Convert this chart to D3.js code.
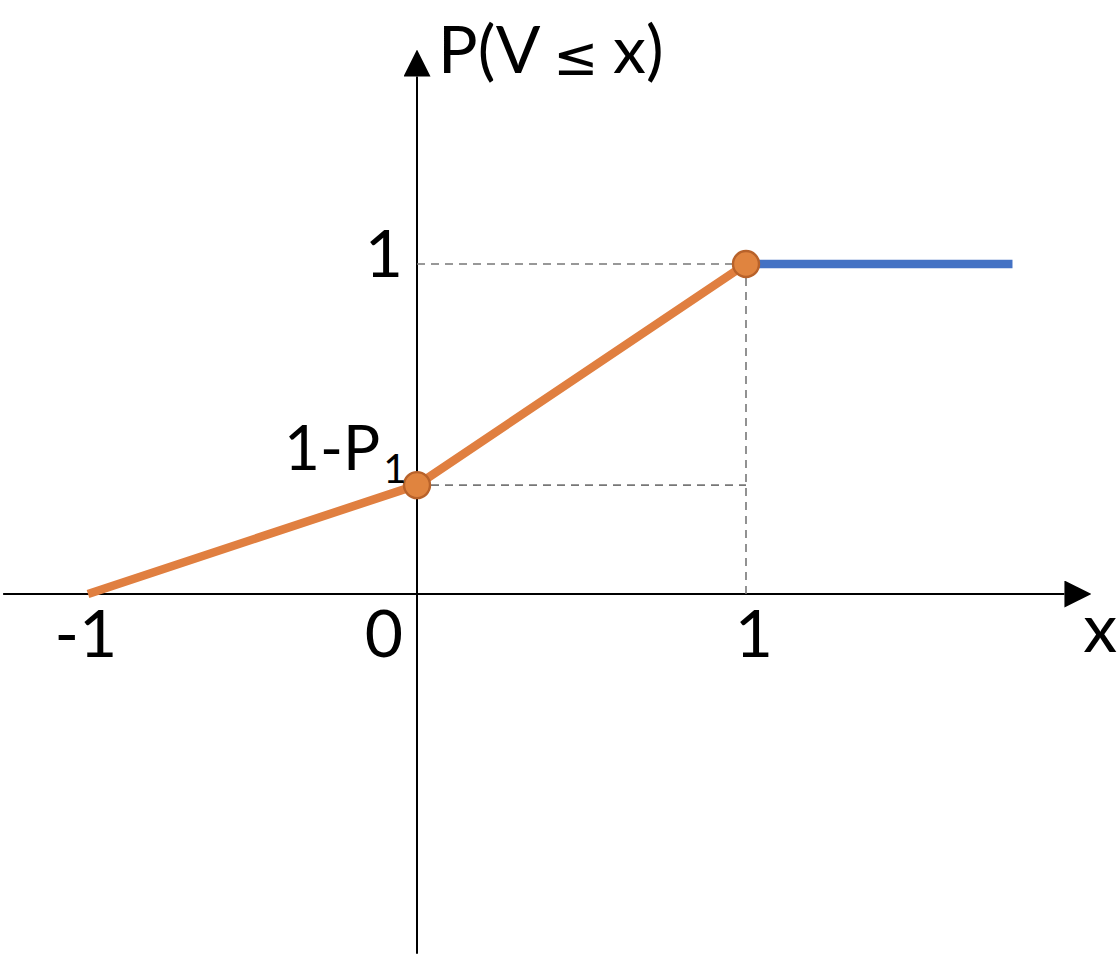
<!DOCTYPE html>
<html>
<head>
<meta charset="utf-8">
<script src="https://cdn.jsdelivr.net/npm/d3@7"></script>
<style>
  html, body { margin: 0; padding: 0; background: #fff; }
  svg { display: block; }
  text { font-family: Lato, "Open Sans", sans-serif; fill: #000; }
</style>
</head>
<body>
<svg id="chart" width="1120" height="960"></svg>
<script>
// ---- data ----
const cdfX = [-1, 0, 1];           // orange segment x values
const cdfY = [0, 0.33, 1];         // orange segment y values (1 - P1 ≈ 0.33)
const flatX = [1, 1.81];           // blue constant segment
const flatY = [1, 1];
const markerX = [0, 1];            // circle markers
const markerY = [0.33, 1];
const xTicks = [-1, 0, 1];
const xTickLabels = ["-1", "0", "1"];
const yTicks = [1];
const yTickLabels = ["1"];
const xAxisExtent = [-1.258, 2.05];
const yAxisExtent = [-1.09, 1.65];
const yLabelParts = ["P(V ", "\u2264", " x)"];
const xLabel = "x";
const pointLabel = "1-P";
const pointLabelSub = "1";

// ---- scales ----
const x = d3.scaleLinear().domain([-1, 1]).range([88, 746]);
const y = d3.scaleLinear().domain([0, 1]).range([594, 264]);

const svg = d3.select("#chart");

const defs = svg.append("defs");
defs.append("marker").attr("id", "arrow")
  .attr("viewBox", "0 0 10 10").attr("refX", 0).attr("refY", 5)
  .attr("markerWidth", 27).attr("markerHeight", 27)
  .attr("markerUnits", "userSpaceOnUse")
  .attr("orient", "auto")
  .append("path").attr("d", "M0,0 L10,5 L0,10 Z").attr("fill", "#000");

// axes
svg.append("line")
  .attr("x1", x(xAxisExtent[0])).attr("x2", x(xAxisExtent[1]) - 27)
  .attr("y1", y(0)).attr("y2", y(0))
  .attr("stroke", "#000").attr("stroke-width", 2)
  .attr("marker-end", "url(#arrow)");
svg.append("line")
  .attr("x1", x(0)).attr("x2", x(0))
  .attr("y1", y(yAxisExtent[0])).attr("y2", y(yAxisExtent[1]) + 27)
  .attr("stroke", "#000").attr("stroke-width", 2)
  .attr("marker-end", "url(#arrow)");

// dashed guides
const dash = svg.append("g").attr("stroke", "#777").attr("stroke-width", 1.6)
  .attr("stroke-dasharray", "8,6").attr("fill", "none");
dash.append("line").attr("x1", x(0)).attr("x2", x(1)).attr("y1", y(1)).attr("y2", y(1));
dash.append("line").attr("x1", x(0)).attr("x2", x(1)).attr("y1", y(cdfY[1])).attr("y2", y(cdfY[1]));
dash.append("line").attr("x1", x(1)).attr("x2", x(1)).attr("y1", y(1)).attr("y2", y(0));

const line = d3.line().x(d => x(d[0])).y(d => y(d[1]));

svg.append("path")
  .datum(flatX.map((v, i) => [v, flatY[i]]))
  .attr("d", line).attr("fill", "none")
  .attr("stroke", "#4472C4").attr("stroke-width", 8.5);

svg.append("path")
  .datum(cdfX.map((v, i) => [v, cdfY[i]]))
  .attr("d", line).attr("fill", "none")
  .attr("stroke", "#E07F40").attr("stroke-width", 8.5)
  .attr("stroke-linejoin", "round");

svg.selectAll("circle.m").data(markerX.map((v, i) => [v, markerY[i]]))
  .join("circle").attr("class", "m")
  .attr("cx", d => x(d[0])).attr("cy", d => y(d[1])).attr("r", 13)
  .attr("fill", "#E0843F").attr("stroke", "#B8622A").attr("stroke-width", 2.4);

// tick labels
const tickFont = 66;
svg.selectAll("text.xt").data(xTicks)
  .join("text").attr("class", "xt")
  .attr("x", (d, i) => d === 0 ? x(0) - 14 : x(d) + (d === 1 ? 8 : -2))
  .attr("y", 657)
  .attr("text-anchor", (d) => d === 0 ? "end" : "middle")
  .attr("font-size", tickFont)
  .text((d, i) => xTickLabels[i]);

svg.selectAll("text.yt").data(yTicks)
  .join("text").attr("class", "yt")
  .attr("x", x(0) - 14).attr("y", d => y(d) + 13)
  .attr("text-anchor", "end")
  .attr("font-size", tickFont)
  .text((d, i) => yTickLabels[i]);

// point label 1-P1
const pl = svg.append("text")
  .attr("x", 284).attr("y", 470)
  .attr("font-size", 62);
pl.append("tspan").text(pointLabel);
pl.append("tspan").attr("font-size", 40).attr("dx", 3).attr("dy", 13).text(pointLabelSub);

// axis labels
const yl = svg.append("text").attr("x", 438).attr("y", 73).attr("font-size", 66);
yl.append("tspan").text(yLabelParts[0]);
yl.append("tspan").attr("font-family", "DejaVu Sans").attr("font-size", 54)
  .attr("dx", -2).attr("dy", 2).text(yLabelParts[1]);
yl.append("tspan").attr("dy", -2).attr("dx", -2).text(yLabelParts[2]);
svg.append("text").attr("x", 1117).attr("y", 652)
  .attr("text-anchor", "end")
  .attr("font-size", 68).text(xLabel);
</script>
</body>
</html>
